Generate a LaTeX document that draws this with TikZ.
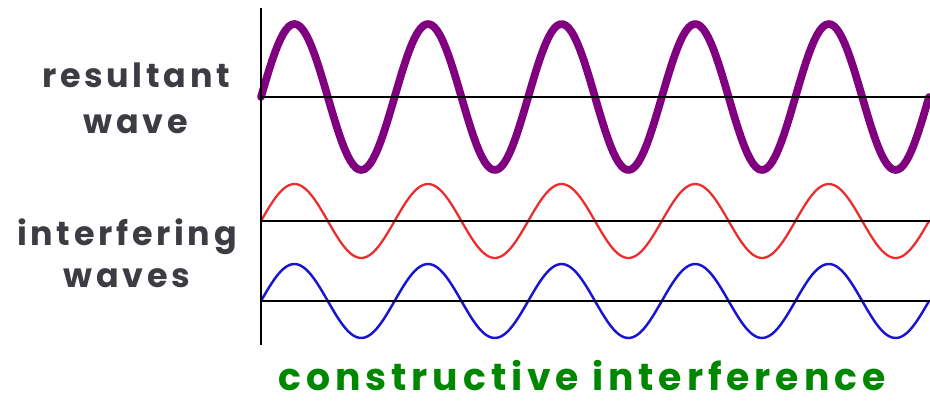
\documentclass[tikz,border=0pt]{standalone}
\usepackage{fontspec}
\setmainfont{Poppins}
\usepackage{tikz}
\usetikzlibrary{positioning}
\definecolor{purplewave}{RGB}{128,0,128}
\definecolor{redwave}{RGB}{235,45,45}
\definecolor{bluewave}{RGB}{25,20,210}
\definecolor{labelgrey}{RGB}{60,60,66}
\definecolor{titlegreen}{RGB}{0,135,0}
\tikzset{
  lbl/.style={font=\bfseries\fontsize{19}{22}\selectfont\addfontfeatures{LetterSpace=11},
    text=labelgrey,inner sep=0pt},
  ttl/.style={font=\bfseries\fontsize{21.5}{25}\selectfont\addfontfeatures{LetterSpace=13},
    text=titlegreen,inner sep=0pt},
  baseline/.style={line width=1.1pt,black},
  wavy/.style={line join=round,line cap=round},
}

\begin{document}
\begin{tikzpicture}[x=0.02cm,y=-0.02cm]
  \useasboundingbox (0,0) rectangle (930,400);
  % waves: start at the axis, 5 periods of 133.6px (360/133.6 = 2.6946 deg per px)
  \draw[wavy,purplewave,line width=4.4pt] plot[domain=0:668,samples=240]
    ({261+\x},{97-73*sin(2.6946*\x)});
  \draw[wavy,redwave,line width=1.3pt] plot[domain=0:668,samples=240]
    ({261+\x},{221-37*sin(2.6946*\x)});
  \draw[wavy,bluewave,line width=1.4pt] plot[domain=0:668,samples=240]
    ({261+\x},{301-37*sin(2.6946*\x)});
  % zero lines and axis
  \coordinate (axtop) at (261,8);
  \coordinate (axbot) at (261,345);
  \foreach \name/\yy in {res/97,red/221,blue/301}{
    \coordinate (\name0) at (261,\yy);
    \coordinate (\name1) at (930,\yy);
    \draw[baseline] (\name0) -- (\name1);
  }
  \draw[line width=1.7pt,black] (axtop) -- (axbot);
  % labels
  \node[lbl,anchor=base] (resultant) at (136,87) {resultant};
  \node[lbl,anchor=base] (wave) at (136,133) {wave};
  \node[lbl,anchor=base] (interfering) at (127,245) {interfering};
  \node[lbl,anchor=base] (waves) at (127,287) {waves};
  \node[ttl,anchor=base] (title) at (582,390) {constructive interference};
\end{tikzpicture}
\end{document}
